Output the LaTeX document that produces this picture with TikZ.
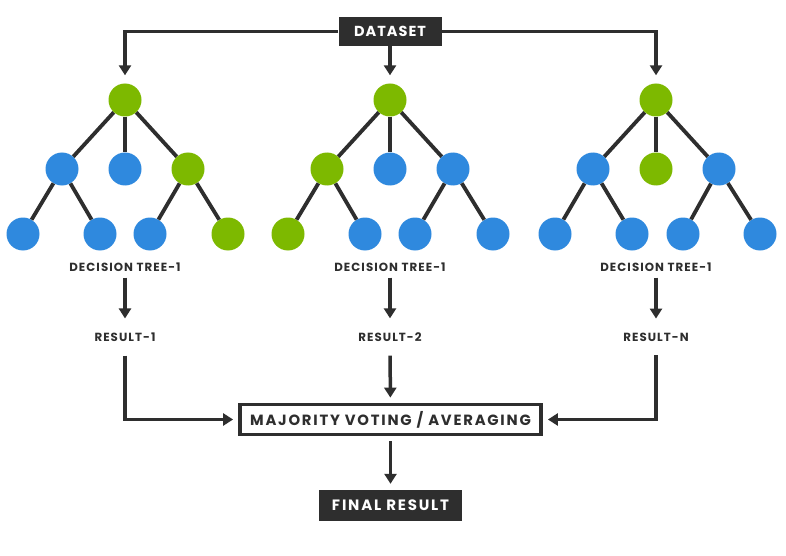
\documentclass[tikz,border=0pt]{standalone}
\usepackage{fontspec}
\setmainfont{Poppins}
\newfontfamily\spaced{Poppins}[LetterSpace=7]
\newfontfamily\spacedw{Poppins}[LetterSpace=9]
\newfontfamily\spacedx{Poppins}[LetterSpace=12]
\usetikzlibrary{arrows.meta}
\definecolor{dk}{HTML}{2E2E2E}
\definecolor{gr}{HTML}{7DB900}
\definecolor{bl}{HTML}{2F89DE}
\tikzset{
  x=1pt, y=-1pt,
  dot/.style={circle, minimum size=33pt, inner sep=0pt},
  gn/.style={dot, fill=gr},
  bn/.style={dot, fill=bl},
  edge/.style={draw=dk, line width=3.8pt},
  arr/.style={draw=dk, line width=3.5pt, -{Triangle[width=12pt,length=10pt]}},
  lbl/.style={font=\spacedw\fontsize{11.8}{13}\selectfont\bfseries, text=dk, inner sep=2pt},
  darkbox/.style={fill=dk, text=white, font=\spaced\fontsize{14.5}{16}\selectfont\bfseries, inner sep=0pt},
}
\begin{document}
\begin{tikzpicture}
\useasboundingbox[fill=white] (0,0) rectangle (786,556);
% dataset
\node[darkbox, minimum width=103pt, minimum height=29pt] (ds) at (390,31.5) {DATASET};
% tree 1
\node[gn] (a0) at (125,100) {};
\node[bn] (a1) at (62,169) {};
\node[bn] (a2) at (125,169) {};
\node[gn] (a3) at (188,169) {};
\node[bn] (a4) at (23,234) {};
\node[bn] (a5) at (100,234) {};
\node[bn] (a6) at (150,234) {};
\node[gn] (a7) at (228,234) {};
% tree 2
\node[gn] (b0) at (390,100) {};
\node[gn] (b1) at (327,169) {};
\node[bn] (b2) at (390,169) {};
\node[bn] (b3) at (453,169) {};
\node[gn] (b4) at (288,234) {};
\node[bn] (b5) at (365,234) {};
\node[bn] (b6) at (415,234) {};
\node[bn] (b7) at (493,234) {};
% tree 3
\node[gn] (c0) at (656,100) {};
\node[bn] (c1) at (593,169) {};
\node[gn] (c2) at (656,169) {};
\node[bn] (c3) at (719,169) {};
\node[bn] (c4) at (555,234) {};
\node[bn] (c5) at (632,234) {};
\node[bn] (c6) at (683,234) {};
\node[bn] (c7) at (760,234) {};
\foreach \t in {a,b,c}{
  \draw[edge] (\t0) -- (\t1);
  \draw[edge] (\t0) -- (\t2);
  \draw[edge] (\t0) -- (\t3);
  \draw[edge] (\t1) -- (\t4);
  \draw[edge] (\t1) -- (\t5);
  \draw[edge] (\t3) -- (\t6);
  \draw[edge] (\t3) -- (\t7);
}
% labels
\node[lbl] (d1) at (125,267) {DECISION TREE-1};
\node[lbl] (d2) at (390,267) {DECISION TREE-1};
\node[lbl] (d3) at (656,267) {DECISION TREE-1};
\node[lbl] (r1) at (125,337) {RESULT-1};
\node[lbl] (r2) at (390,337) {RESULT-2};
\node[lbl] (r3) at (656,337) {RESULT-N};
% majority
\node[draw=dk, line width=3.8pt, fill=white, minimum width=301pt, minimum height=30pt, inner sep=0pt, font=\spacedx\fontsize{14.8}{16}\selectfont\bfseries, text=dk] (mv) at (390.5,419.5) {MAJORITY VOTING / AVERAGING};
\node[darkbox, minimum width=143pt, minimum height=31pt, font=\spacedx\fontsize{15}{16}\selectfont\bfseries] (fr) at (390.5,505.5) {FINAL RESULT};
% connectors
\draw[arr, shorten >=8pt] (ds.west) -| (a0);
\draw[arr, shorten >=8pt] (ds.east) -| (c0);
\draw[arr, shorten >=8pt] (ds) -- (b0);
\draw[arr, shorten <=4pt, shorten >=12pt] (d1) -- (r1);
\draw[arr, shorten <=4pt, shorten >=12pt] (d2) -- (r2);
\draw[arr, shorten <=4pt, shorten >=12pt] (d3) -- (r3);
\draw[arr, shorten <=12pt, shorten >=5pt] (r1) |- (mv);
\draw[arr, shorten <=12pt, shorten >=5pt] (r3) |- (mv);
\draw[arr, shorten <=12pt, shorten >=5pt] (r2) -- (mv);
\draw[arr, shorten <=5pt, shorten >=6pt] (mv) -- (fr);
\end{tikzpicture}
\end{document}
